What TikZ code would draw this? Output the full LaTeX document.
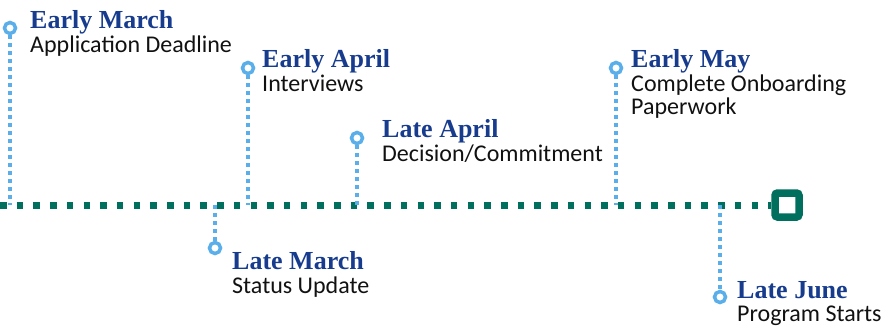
\documentclass[tikz,border=0pt]{standalone}
\usepackage{fontspec}
\setmainfont{Carlito}
\newfontfamily\titlefont{Liberation Serif}
\definecolor{tblue}{HTML}{173C8E}
\definecolor{mblue}{HTML}{5AAEEA}
\definecolor{axteal}{HTML}{006F5E}
\definecolor{dtext}{HTML}{111111}
\begin{document}
\begin{tikzpicture}[x=1pt,y=-1pt,
  dot/.style={circle, draw=mblue, line width=3.5pt, minimum size=11pt, inner sep=0pt, fill=white},
  stem/.style={draw=mblue, line width=4pt, dash pattern=on 4pt off 4pt},
  axis/.style={draw=axteal, line width=7pt, dash pattern=on 6.5pt off 10.2pt},
  endsq/.style={rectangle, draw=axteal, line width=7.5pt, minimum size=24pt, inner sep=0pt, rounded corners=2.5pt, fill=white},
  ttl/.style={anchor=base west, inner sep=0pt, font=\titlefont\bfseries\fontsize{26}{28}\selectfont, text=tblue},
  desc/.style={anchor=base west, inner sep=0pt, font=\fontsize{24}{23}\selectfont, text=dtext, align=left}]
\useasboundingbox (0,0) rectangle (882,327);

% axis
\coordinate (start) at (0,205);
\node[endsq] (end) at (787,205) {};
\draw[axis] (start) -- (end.west);

% axis points
\coordinate (a1) at (10,205);
\coordinate (a2) at (248,205);
\coordinate (a3) at (357,205);
\coordinate (a4) at (616,205);
\coordinate (a5) at (215,205);
\coordinate (a6) at (720,205);

% markers
\node[dot] (c1) at (10,28) {};
\node[dot] (c2) at (248,68) {};
\node[dot] (c3) at (357,138) {};
\node[dot] (c4) at (616,68) {};
\node[dot] (c5) at (215,248) {};
\node[dot] (c6) at (720,297) {};

\draw[stem] (c1.south) -- (a1);
\draw[stem] (c2.south) -- (a2);
\draw[stem] (c3.south) -- (a3);
\draw[stem] (c4.south) -- (a4);
\draw[stem] (a5) -- (c5.north);
\draw[stem] (a6) -- (c6.north);

% labels
\node[ttl] (t1) at (30,28) {Early March};
\node[desc] (d1) at (30,52) {Application Deadline};
\node[ttl] (t2) at (262,67) {Early April};
\node[desc] (d2) at (262,91) {Interviews};
\node[ttl] (t3) at (382,137) {Late April};
\node[desc] (d3) at (382,161) {Decision/Commitment};
\node[ttl] (t4) at (631,67) {Early May};
\node[desc] (d4) at (631,114) {Complete Onboarding\\Paperwork};
\node[ttl] (t5) at (232,269) {Late March};
\node[desc] (d5) at (232,293) {Status Update};
\node[ttl] (t6) at (737,298) {Late June};
\node[desc] (d6) at (737,321) {Program Starts};
\end{tikzpicture}
\end{document}
